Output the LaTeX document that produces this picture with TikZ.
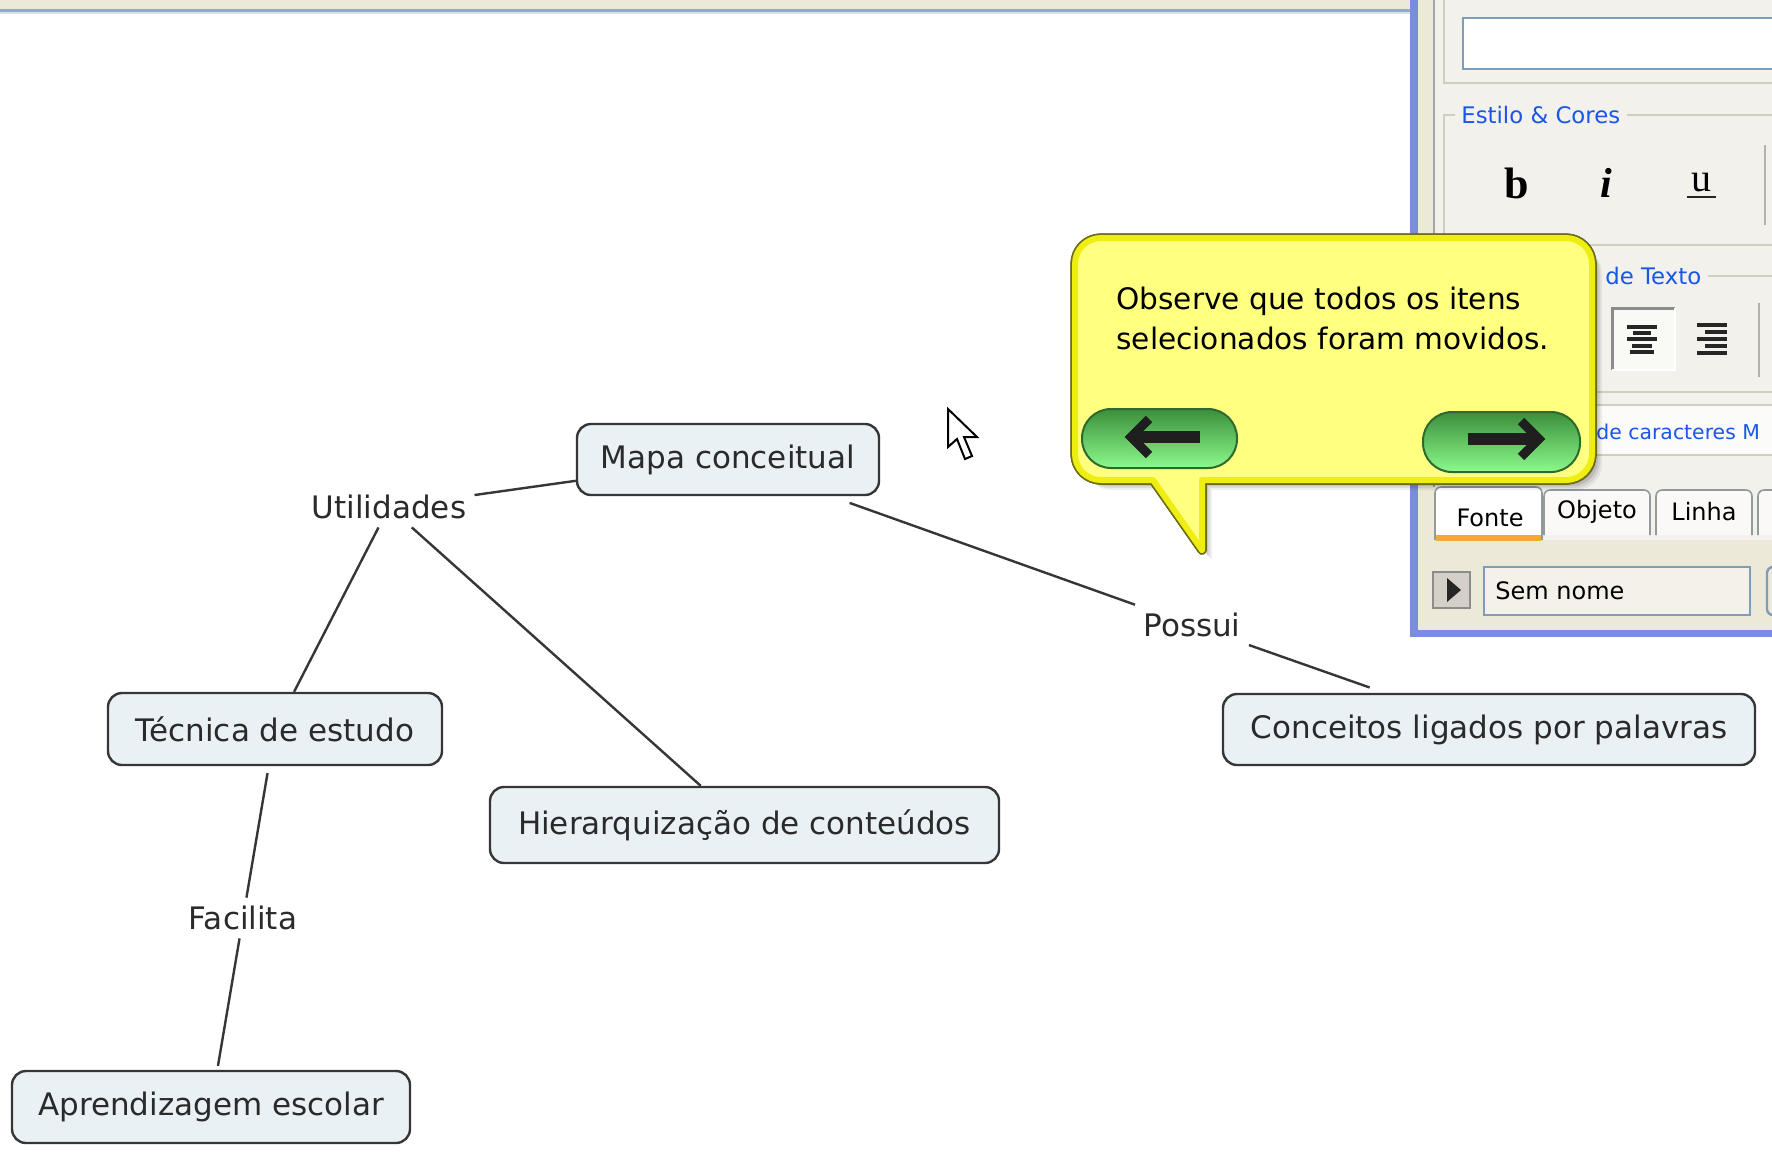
\documentclass[tikz,border=0pt]{standalone}
\usepackage{fontspec}
\setmainfont{DejaVu Sans}
\newfontfamily\uiserif{Liberation Serif}
\definecolor{boxfill}{HTML}{EAF1F4}
\definecolor{boxline}{HTML}{363636}
\definecolor{txt}{HTML}{2A2A2A}
\definecolor{xpbeige}{HTML}{ECE9D8}
\definecolor{xpblue}{HTML}{7A8CE0}
\definecolor{panelbg}{HTML}{F2F1EC}
\definecolor{grpline}{HTML}{CFCFC0}
\definecolor{linkblue}{HTML}{1A56E8}
\definecolor{fieldline}{HTML}{7F9DB9}
\definecolor{paleyel}{HTML}{FFFF80}
\definecolor{bandyel}{HTML}{EEEE12}
\definecolor{darkyel}{HTML}{6E6E18}
\definecolor{btndark}{HTML}{3B8F3B}
\definecolor{btnmid}{HTML}{70E070}
\definecolor{btnlight}{HTML}{8CFA8C}
\definecolor{btnline}{HTML}{2E6A2E}
\definecolor{tabline}{HTML}{919B9C}
\definecolor{taborange}{HTML}{F2A93B}
\definecolor{btngrey}{HTML}{D4D0C8}
\newcommand{\mybubble}[1]{\path[#1] (1202,550) -- (1153,480) -- (1101,480)
  .. controls (1086.6,480) and (1075,468.4) .. (1075,454) -- (1075,264)
  .. controls (1075,249.6) and (1086.6,238) .. (1101,238) -- (1566,238)
  .. controls (1580.4,238) and (1592,249.6) .. (1592,264) -- (1592,454)
  .. controls (1592,468.4) and (1580.4,480) .. (1566,480) -- (1202,480) -- cycle;}
\begin{document}
\begin{tikzpicture}[x=0.5pt,y=-0.5pt,
  cbox/.style={draw=boxline, fill=boxfill, rounded corners=7pt, line width=1.2pt, text=txt,
    font=\fontsize{15.5pt}{18pt}\selectfont, inner sep=0pt},
  clabel/.style={text=txt, font=\fontsize{15.5pt}{18pt}\selectfont, inner sep=4pt},
  link/.style={draw=boxline, line width=1.2pt},
  paneltitle/.style={text=linkblue, font=\fontsize{11.4pt}{13pt}\selectfont, inner sep=1pt},
  tablabel/.style={text=black, font=\fontsize{12pt}{14pt}\selectfont, inner sep=0pt},
  grp/.style={draw=grpline, line width=1pt},
  iconline/.style={draw=black!85, line width=1.7pt},
]
\useasboundingbox (0,0) rectangle (1772,1153);
\fill[white] (0,0) rectangle (1772,1153);

% ---------- concept map ----------
\node[cbox, minimum width=151pt, minimum height=35.5pt] (mapa) at (728,459.5) {Mapa conceitual};
\node[cbox, minimum width=167pt, minimum height=36pt] (tecnica) at (275,729) {Técnica de estudo};
\node[cbox, minimum width=254.5pt, minimum height=38pt] (hier) at (744.5,825) {Hierarquização de conteúdos};
\node[cbox, minimum width=199pt, minimum height=36pt] (aprend) at (211,1107) {Aprendizagem escolar};
\node[cbox, minimum width=266pt, minimum height=35.5pt] (conc) at (1489,729.5) {Conceitos ligados por palavras};
\node[clabel] (util) at (389,507) {Utilidades};
\node[clabel] (possui) at (1192,625) {Possui};
\node[clabel] (facil) at (243,918) {Facilita};

\draw[link] (util) -- (mapa);
\draw[link] (util) -- (tecnica);
\draw[link] (util) -- (hier);
\draw[link, shorten <=10pt] (mapa) -- (possui);
\draw[link, shorten >=8pt] (possui) -- (conc);
\draw[link, shorten <=3.5pt] (tecnica) -- (facil);
\draw[link, shorten >=2pt] (facil) -- (aprend);

% ---------- top bar ----------
\fill[xpbeige] (0,0) rectangle (1410,9);
\fill[fieldline!85] (0,9) rectangle (1410,12);
\fill[fieldline!30] (0,12) rectangle (1410,14);

% ---------- side panel ----------
\fill[xpblue] (1410,0) rectangle (1418,637);
\fill[xpblue] (1410,630) rectangle (1772,637);
\fill[xpbeige] (1418,0) rectangle (1772,630);
\fill[panelbg] (1435,0) rectangle (1772,540);
\draw[black!35, line width=1pt] (1434,0) -- (1434,487);
% group 1
\draw[grp] (1444,0) -- (1444,83) -- (1772,83);
\filldraw[fill=white, draw=fieldline, line width=1pt] (1463,18) rectangle (1780,69);
% Estilo & Cores
\draw[grp] (1455,115) -- (1444,115) -- (1444,245) -- (1772,245);
\draw[grp] (1627,115) -- (1772,115);
\node[paneltitle, anchor=west] (estilo) at (1459,115) {Estilo \& Cores};
\node[font=\uiserif\bfseries\fontsize{22pt}{22pt}\selectfont, inner sep=0pt] (bbtn) at (1517,183) {b};
\node[font=\uiserif\bfseries\itshape\fontsize{21pt}{21pt}\selectfont, inner sep=0pt] (ibtn) at (1606,183) {i};
\node[font=\uiserif\fontsize{20pt}{20pt}\selectfont, inner sep=0pt] (ubtn) at (1701,183) {u};
\draw[black!85, line width=1pt] (1687,197) -- (1716,197);
\draw[black!30, line width=1pt] (1765,145) -- (1765,225);
% de Texto group
\draw[grp] (1444,276) -- (1444,392) -- (1772,392);
\draw[grp] (1708,276) -- (1772,276);
\node[paneltitle, anchor=west] (texto) at (1603,276) {de Texto};
\fill[white!55!panelbg] (1612,308) rectangle (1675,370);
\draw[black!45, line width=1.5pt] (1612,370) -- (1612,308) -- (1675,308);
\draw[white, line width=1pt] (1675,308) -- (1675,370) -- (1612,370);
\foreach \yy/\ww in {327/15, 333/9, 339/15, 346/10, 352/12}
  \draw[iconline] (1642-\ww,\yy) -- (1642+\ww,\yy);
\foreach \yy/\ww in {325/30, 332/22, 339/30, 346/22, 353/30}
  \draw[iconline] (1727-\ww,\yy) -- (1727,\yy);
\draw[black!30, line width=1pt] (1759,303) -- (1759,377);
\fill[white!70!panelbg] (1435,405) rectangle (1772,455);
\draw[grp] (1435,405) -- (1772,405);
\draw[grp] (1435,455) -- (1772,455);
\node[paneltitle, anchor=west, inner sep=0pt, font=\fontsize{10.2pt}{12pt}\selectfont] (caract) at (1596,432) {de caracteres M};
% tabs
\filldraw[fill=white!60!panelbg, draw=tabline, line width=0.8pt, rounded corners=3pt] (1544,535) -- (1544,490) -- (1650,490) -- (1650,535);
\filldraw[fill=white!60!panelbg, draw=tabline, line width=0.8pt, rounded corners=3pt] (1656,535) -- (1656,490) -- (1752,490) -- (1752,535);
\filldraw[fill=white!60!panelbg, draw=tabline, line width=0.8pt, rounded corners=3pt] (1758,535) -- (1758,490) -- (1800,490) -- (1800,535);
\filldraw[fill=white, draw=tabline, line width=0.8pt, rounded corners=3pt] (1435,540) -- (1435,487) -- (1542,487) -- (1542,540);
\fill[taborange] (1436,535) rectangle (1541,541);
\node[tablabel] (fonte) at (1490,518) {Fonte};
\node[tablabel] (objeto) at (1597,512) {Objeto};
\node[tablabel] (linha) at (1704,512) {Linha};
% bottom row
\filldraw[fill=btngrey, draw=black!45, line width=0.8pt] (1433,572) rectangle (1470,608);
\fill[black!85] (1447,578) -- (1461,590) -- (1447,602) -- cycle;
\filldraw[fill=xpbeige!60!white, draw=fieldline, line width=1pt] (1484,567) rectangle (1750,615);
\node[tablabel, anchor=west] (semnome) at (1495,591) {Sem nome};
\draw[fieldline, line width=1.2pt, rounded corners=3pt] (1790,567) -- (1767,567) -- (1767,615) -- (1790,615);

% ---------- callout ----------
\foreach \o/\op in {10/0.06, 8/0.08, 6/0.1, 4/0.12}
  \mybubble{fill=black, opacity=\op, shift={(\o,\o)}}
\mybubble{draw=darkyel, line width=4.5pt, line join=round}
\mybubble{fill=paleyel}
\mybubble{draw=bandyel, line width=3pt, line join=round}
\node[anchor=west, align=left, text=black, font=\fontsize{14.8pt}{20pt}\selectfont, inner sep=0pt] (tiptext) at (1116,318)
  {Observe que todos os itens\\selecionados foram movidos.};
% buttons
\shadedraw[top color=btndark, middle color=btnmid, bottom color=btnlight, draw=btnline, line width=1pt, rounded corners=14.5pt]
  (1082,409) rectangle (1237,468);
\shadedraw[top color=btndark, middle color=btnmid, bottom color=btnlight, draw=btnline, line width=1pt, rounded corners=14.5pt]
  (1423,412) rectangle (1580,472);
\draw[black!88, line width=6pt] (1136,437) -- (1200,437);
\draw[black!88, line width=4.5pt, line join=miter] (1149,419) -- (1131,437) -- (1149,455);
\draw[black!88, line width=6pt] (1468,439) -- (1534,439);
\draw[black!88, line width=4.5pt, line join=miter] (1521,421) -- (1539,439) -- (1521,457);

% ---------- mouse cursor ----------
\filldraw[fill=white, draw=black, line width=1pt, line join=miter]
  (948,409) -- (948,447) -- (957,439) -- (965,459) -- (972,456) -- (964,437) -- (977,437) -- cycle;
\end{tikzpicture}
\end{document}
